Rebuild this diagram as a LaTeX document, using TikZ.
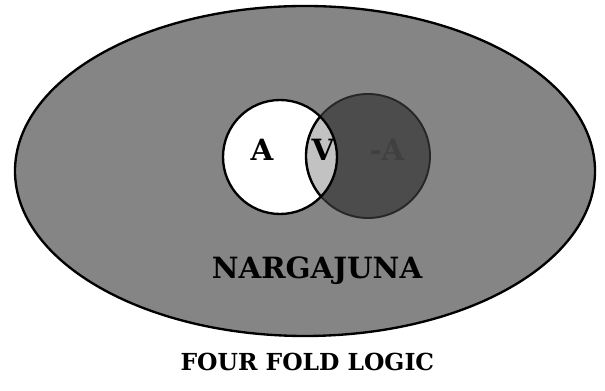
\documentclass[tikz,border=0pt]{standalone}
\usepackage{fontspec}
\setmainfont{DejaVu Serif}
\usepackage{tikz}
\usetikzlibrary{shapes.geometric}
\definecolor{outergray}{gray}{0.52}
\definecolor{darkgray}{gray}{0.30}
\definecolor{lensgray}{gray}{0.76}

\begin{document}
\begin{tikzpicture}[bigtext/.style={font=\bfseries\fontsize{25}{25}\selectfont}]
  \useasboundingbox (0,0) rectangle (18.15,11.73);
  % Outer ellipse
  \node[ellipse,draw,line width=2pt,fill=outergray,minimum width=17.4cm,minimum height=9.9cm]
    (nagarjuna) at (9.15,6.6) {};
  % The two circles
  \node[circle,fill=darkgray,minimum size=3.72cm,inner sep=0pt] (notA) at (11.04,7.05) {};
  \node[circle,fill=white,minimum size=3.42cm,inner sep=0pt] (A) at (8.4,7.02) {};
  \begin{scope}
    \clip (8.4,7.02) circle (1.71);
    \fill[lensgray] (11.04,7.05) circle (1.86);
  \end{scope}
  \draw[line width=1.6pt,black!85] (notA.center) circle (1.86);
  \draw[line width=2pt] (A.center) circle (1.71);
  \begin{scope}
    \clip (8.4,7.02) circle (1.71);
    \draw[line width=2pt] (11.04,7.05) circle (1.86);
  \end{scope}
  % Labels
  \node[bigtext] (labA) at (7.86,7.23) {A};
  \node[bigtext] (labV) at (9.69,7.23) {V};
  \node[bigtext,text=black!75] (labnotA) at (11.61,7.23) {-A};
  \node[bigtext] (name) at (9.51,3.6) {NARGAJUNA};
  \node[bigtext,font=\bfseries\fontsize{20}{20}\selectfont] (title) at (9.22,0.87) {FOUR FOLD LOGIC};
\end{tikzpicture}
\end{document}
